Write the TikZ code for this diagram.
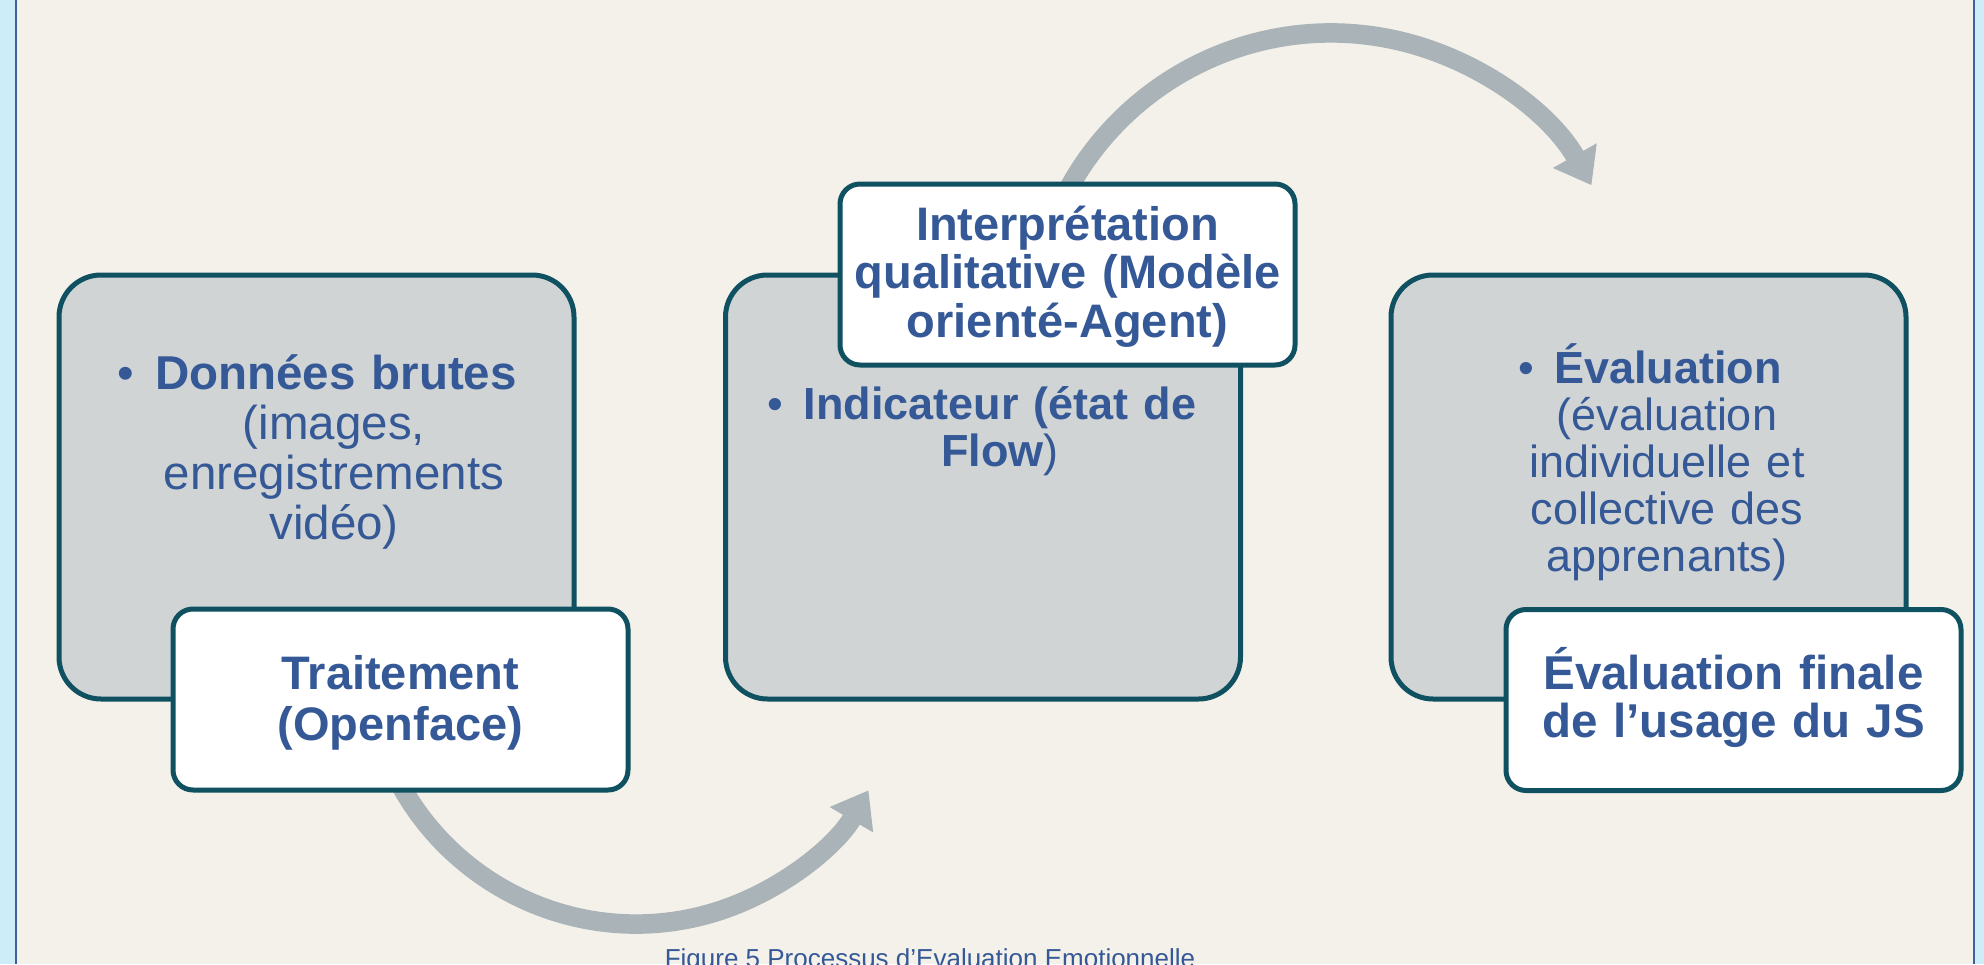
\documentclass[tikz,border=0pt]{standalone}
\usepackage{fontspec}
\setmainfont{Liberation Sans}
\usetikzlibrary{arrows.meta}
\definecolor{bgbeige}{HTML}{F3F1EA}
\definecolor{sideblue}{HTML}{CDEEF8}
\definecolor{frameblue}{HTML}{3F5FA0}
\definecolor{boxline}{HTML}{0F5161}
\definecolor{boxgray}{HTML}{D0D4D5}
\definecolor{txtblue}{HTML}{355896}
\definecolor{arrowgray}{HTML}{AAB3B8}
\begin{document}
\begin{tikzpicture}[x=1pt,y=-1pt,
  graybox/.style={draw=boxline, line width=5pt, fill=boxgray, rounded corners=42pt, inner sep=0pt, minimum width=515pt, minimum height=424pt},
  whitebox/.style={draw=boxline, line width=5pt, fill=white, rounded corners=20pt, inner sep=0pt, minimum width=455pt, minimum height=181pt},
  txt/.style={text=txtblue, align=center, text width=600pt, inner sep=0pt, anchor=base},
  cyclearrow/.style={draw=arrowgray, line width=19.5pt, -{Triangle[length=34pt,width=48pt]}}
]
\useasboundingbox (0,0) rectangle (1984,964);
% background and frame
\fill[sideblue] (0,0) rectangle (1984,964);
\fill[bgbeige] (16,0) rectangle (1974,964);
\coordinate (fl1) at (16,0);
\coordinate (fl2) at (16,964);
\coordinate (fr1) at (1974,0);
\coordinate (fr2) at (1974,964);
\draw[frameblue, line width=2.5pt] (fl1) -- (fl2) (fr1) -- (fr2);

% circular arrows (under the boxes)
\coordinate (c1) at (636,655);
\coordinate (a1s) at ([shift={(636,655)}]160:269);
\draw[cyclearrow] (a1s) arc[start angle=160, end angle=30.2, radius=269];
\coordinate (c2) at (1331,332);
\coordinate (a2s) at ([shift={(1331,332)}]195:299);
\draw[cyclearrow] (a2s) arc[start angle=195, end angle=330.6, radius=299];

% gray boxes
\node[graybox] (g1) at (316.5,487) {};
\node[graybox] (g2) at (983,487) {};
\node[graybox] (g3) at (1648.5,487) {};

% white boxes
\node[whitebox] (w1) at (400.5,699.5) {};
\node[whitebox] (w2) at (1067.5,274.5) {};
\node[whitebox] (w3) at (1733.5,700) {};

% texts in gray boxes
\node[txt, font=\fontsize{47.5}{50}\selectfont] (g1t) at (334,389)
  {\hspace*{-34pt}•\hspace{0.45em}\textbf{Données brutes}\\(images,\\enregistrements\\vidéo)};
\node[txt, font=\fontsize{45}{47}\selectfont] (g2t) at (1000,419)
  {\hspace*{-36pt}•\hspace{0.45em}\textbf{Indicateur (état de}\\\textbf{Flow})};
\node[txt, font=\fontsize{45}{47}\selectfont] (g3t) at (1667,383)
  {\hspace*{-34pt}•\hspace{0.45em}\textbf{Évaluation}\\(évaluation\\individuelle et\\collective des\\apprenants)};

% texts in white boxes
\node[txt, font=\bfseries\fontsize{47}{51}\selectfont] (w1t) at (400.5,689)
  {Traitement\\(Openface)};
\node[txt, font=\bfseries\fontsize{47}{48.5}\selectfont] (w2t) at (1067.5,240)
  {Interprétation\\qualitative (Modèle\\orienté-Agent)};
\node[txt, font=\bfseries\fontsize{47.5}{48}\selectfont] (w3t) at (1733.5,689)
  {Évaluation finale\\de l’usage du JS};

% caption (cut by the page edge, as in the reference)
\node[text=txtblue, font=\fontsize{26}{30}\selectfont, anchor=base, inner sep=0pt] (cap) at (930,967)
  {Figure 5 Processus d’Evaluation Emotionnelle};
\end{tikzpicture}
\end{document}
